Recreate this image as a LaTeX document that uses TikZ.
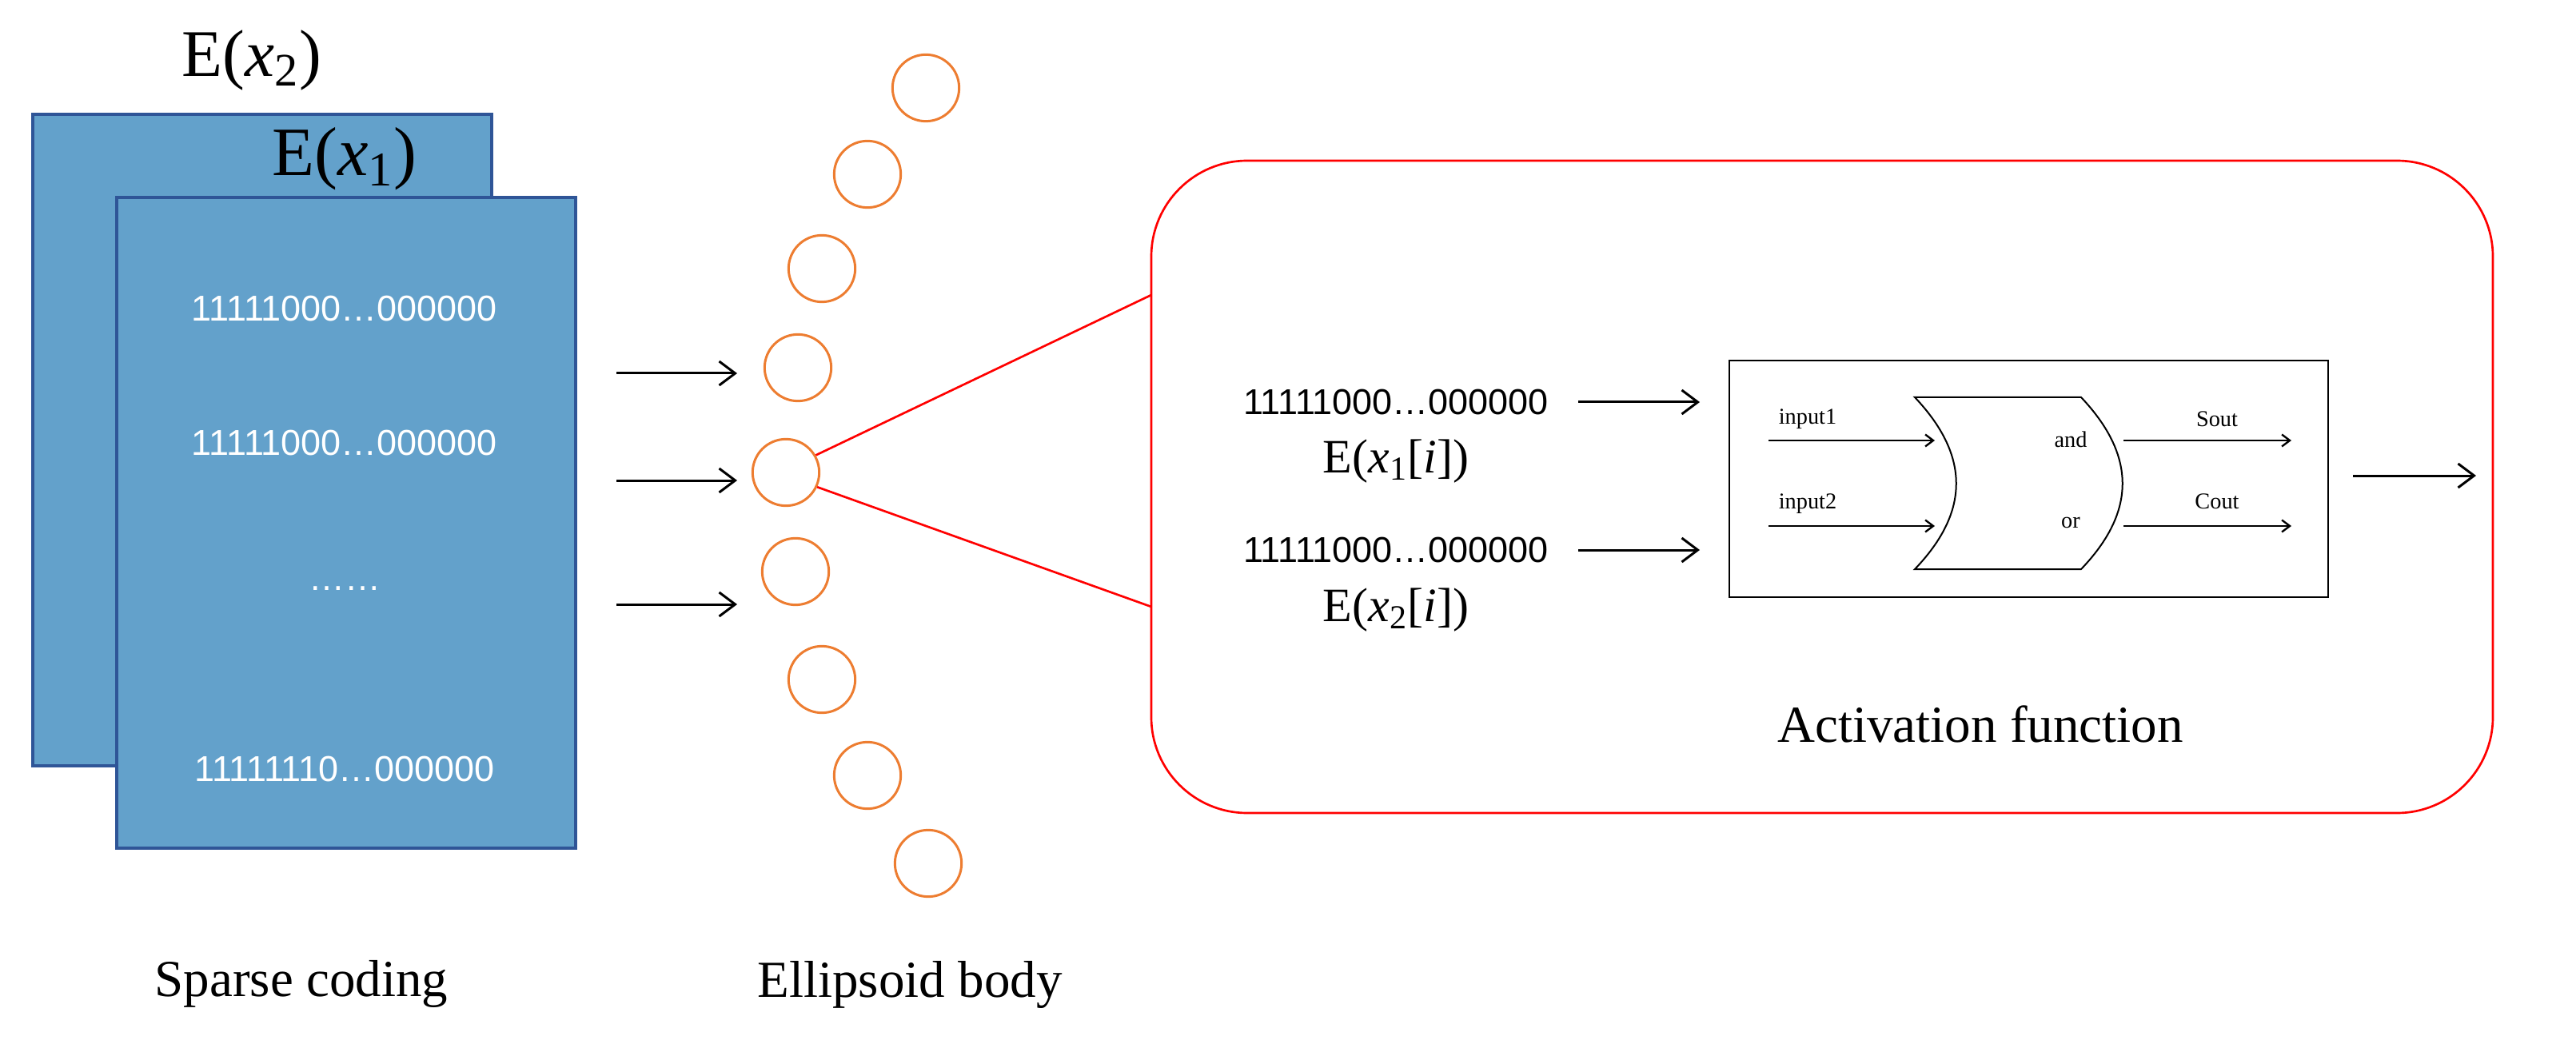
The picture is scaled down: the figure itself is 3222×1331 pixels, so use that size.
\documentclass[tikz,border=0pt]{standalone}
\usepackage{fontspec}
\setmainfont{Liberation Serif}
\newfontfamily\numf{Liberation Sans}
\usetikzlibrary{arrows.meta}
\definecolor{sheet}{RGB}{99,161,203}
\definecolor{sheetb}{RGB}{47,85,151}
\definecolor{ora}{RGB}{237,125,49}
\newcommand{\vx}[1]{\textit{x}\textsubscript{#1}}
\begin{document}
\begin{tikzpicture}[x=0.3pt,y=-0.3pt,
  sheetst/.style={draw=sheetb,fill=sheet,line width=1pt},
  nums/.style={font=\numf\fontsize{13.5}{15}\selectfont,text=white},
  bnums/.style={font=\numf\fontsize{13.5}{15}\selectfont},
  neuron/.style={circle,draw=ora,line width=0.9pt,minimum size=25pt,inner sep=0pt},
  arr/.style={-{Straight Barb[length=6pt,width=9pt]},line width=0.9pt},
  sarr/.style={-{Straight Barb[length=3pt,width=4.5pt]},line width=0.7pt},
  red/.style={draw=red,line width=0.8pt},
  lab/.style={font=\fontsize{19.5}{22}\selectfont},
  small/.style={font=\fontsize{8.5}{10}\selectfont}]
\useasboundingbox (0,0) rectangle (3222,1331);
% sheets
\draw[sheetst] (41,143) rectangle (615,958);
\draw[sheetst] (146,247) rectangle (720,1061);
\node[font=\fontsize{25}{28}\selectfont] (ex2) at (315,75) {E(\vx{2})};
\node[font=\fontsize{26}{28}\selectfont] (ex1) at (431,199) {E(\vx{1})};
\node[nums] (n1) at (431,386) {11111000…000000};
\node[nums] (n2) at (431,554) {11111000…000000};
\node[nums] (n3) at (431,736) {……};
\node[nums] (n4) at (431,962) {11111110…000000};
\node[lab] (sc) at (377,1231) {Sparse coding};
% arrows
\coordinate (a1s) at (771,467); \coordinate (a1e) at (922,467);
\coordinate (a2s) at (771,601); \coordinate (a2e) at (922,601);
\coordinate (a3s) at (771,756); \coordinate (a3e) at (922,756);
\draw[arr] (a1s) -- (a1e);
\draw[arr] (a2s) -- (a2e);
\draw[arr] (a3s) -- (a3e);
% neurons
\node[neuron] (c1) at (1158,110) {};
\node[neuron] (c2) at (1085,218) {};
\node[neuron] (c3) at (1028,336) {};
\node[neuron] (c4) at (998,460) {};
\node[neuron] (c5) at (983,591) {};
\node[neuron] (c6) at (995,715) {};
\node[neuron] (c7) at (1028,850) {};
\node[neuron] (c8) at (1085,970) {};
\node[neuron] (c9) at (1161,1080) {};
\node[lab] (eb) at (1138,1232) {Ellipsoid body};
% red box
\draw[red,rounded corners=36pt] (1440,201) rectangle (3118,1017);
\coordinate (r1) at (1440,369);
\coordinate (r2) at (1440,759);
\draw[red] (c5.30) -- (r1);
\draw[red] (c5.-25) -- (r2);
% inputs
\node[bnums] (b1) at (1746,503) {11111000…000000};
\node[font=\fontsize{18}{20}\selectfont] (e1) at (1746,577) {E(\vx{1}[\textit{i}])};
\node[bnums] (b2) at (1746,688) {11111000…000000};
\node[font=\fontsize{18}{20}\selectfont] (e2) at (1746,763) {E(\vx{2}[\textit{i}])};
\coordinate (i1s) at (1974,503); \coordinate (i1e) at (2126,503);
\coordinate (i2s) at (1974,688); \coordinate (i2e) at (2126,688);
\draw[arr] (i1s) -- (i1e);
\draw[arr] (i2s) -- (i2e);
% activation box
\draw[line width=0.6pt] (2163,451) rectangle (2912,747);
\draw[line width=0.6pt] (2395,497) -- (2603,497) .. controls (2672,570) and (2672,640) .. (2603,712) -- (2395,712) .. controls (2464,640) and (2464,570) .. (2395,497) -- cycle;
\coordinate (g1s) at (2212,551); \coordinate (g1e) at (2420,551);
\coordinate (g2s) at (2212,658); \coordinate (g2e) at (2420,658);
\coordinate (o1s) at (2656,551); \coordinate (o1e) at (2866,551);
\coordinate (o2s) at (2656,658); \coordinate (o2e) at (2866,658);
\draw[sarr] (g1s) -- (g1e);
\draw[sarr] (g2s) -- (g2e);
\draw[sarr] (o1s) -- (o1e);
\draw[sarr] (o2s) -- (o2e);
\node[small] (in1) at (2261,524) {input1};
\node[small] (in2) at (2261,630) {input2};
\node[small] (and) at (2590,550) {and};
\node[small] (or) at (2590,654) {or};
\node[small] (so) at (2773,524) {Sout};
\node[small] (co) at (2773,627) {Cout};
\coordinate (fs) at (2943,595); \coordinate (fe) at (3097,595);
\draw[arr] (fs) -- (fe);
\node[lab] (af) at (2477,906) {Activation function};
\end{tikzpicture}
\end{document}
